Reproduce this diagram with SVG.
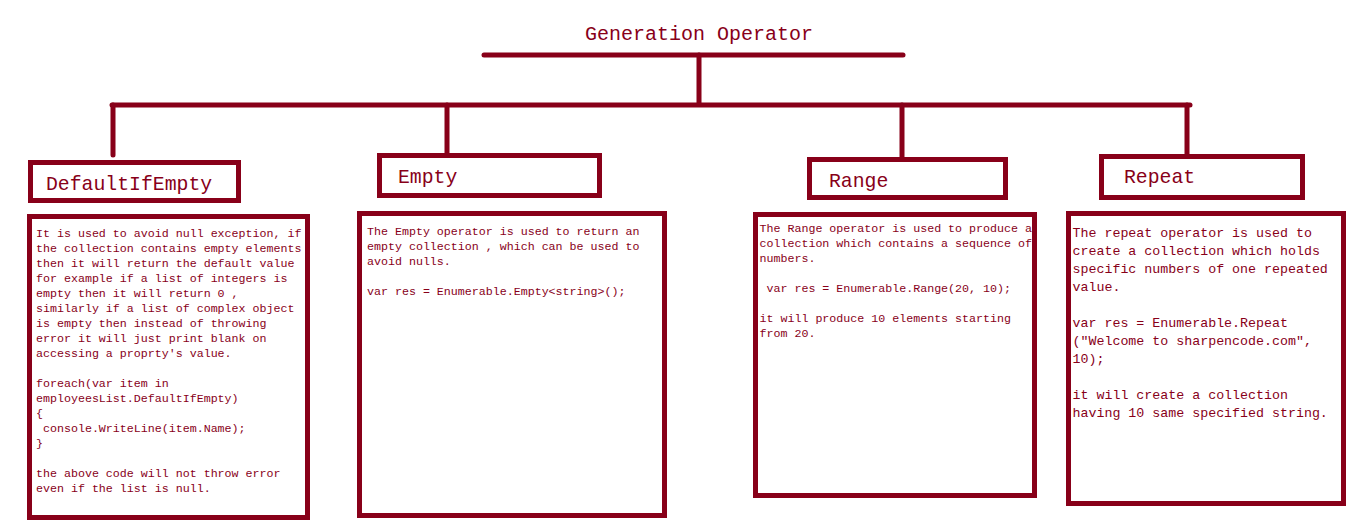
<svg xmlns="http://www.w3.org/2000/svg" width="1357" height="521" viewBox="0 0 1357 521">
<style>
.box{fill:#fff;stroke:#880019;stroke-width:5}
.ln{fill:none;stroke:#880019;stroke-width:5;stroke-linecap:round}
text{font-family:"Liberation Mono","DejaVu Sans Mono",monospace;fill:#880019;white-space:pre}
.t{font-size:20px}
.h{font-size:19.8px}
.b{font-size:11.65px}
.r{font-size:13.3px}
</style>
<rect width="1357" height="521" fill="#fff"/>
<g id="title"><text class="t" x="585" y="40">Generation Operator</text></g>
<g id="connectors">
<path class="ln" d="M484,55 H903"/>
<path class="ln" d="M699,55 V104"/>
<path class="ln" d="M112,105 H1190"/>
<path class="ln" d="M113,105 V155"/>
<path class="ln" d="M447,105 V153"/>
<path class="ln" d="M902,105 V157"/>
<path class="ln" d="M1187,105 V154"/>
</g>
<g id="defaultifempty">
<rect class="box" x="30.5" y="162.5" width="208" height="38"/>
<text class="h" x="46" y="190">DefaultIfEmpty</text>
</g>
<g id="defaultifempty-desc">
<rect class="box" x="29.5" y="216.5" width="278" height="301"/>
<text class="b" x="36" y="237">It is used to avoid null exception, if</text>
<text class="b" x="36" y="252">the collection contains empty elements</text>
<text class="b" x="36" y="267">then it will return the default value</text>
<text class="b" x="36" y="282">for example if a list of integers is</text>
<text class="b" x="36" y="297">empty then it will return 0 ,</text>
<text class="b" x="36" y="312">similarly if a list of complex object</text>
<text class="b" x="36" y="327">is empty then instead of throwing</text>
<text class="b" x="36" y="342">error it will just print blank on</text>
<text class="b" x="36" y="357">accessing a proprty's value.</text>
<text class="b" x="36" y="387">foreach(var item in</text>
<text class="b" x="36" y="402">employeesList.DefaultIfEmpty)</text>
<text class="b" x="36" y="417">{</text>
<text class="b" x="36" y="432"> console.WriteLine(item.Name);</text>
<text class="b" x="36" y="447">}</text>
<text class="b" x="36" y="477">the above code will not throw error</text>
<text class="b" x="36" y="492">even if the list is null.</text>
</g>
<g id="empty">
<rect class="box" x="379.5" y="155.5" width="220" height="40"/>
<text class="h" x="398" y="183">Empty</text>
</g>
<g id="empty-desc">
<rect class="box" x="359.5" y="213.5" width="305" height="302"/>
<text class="b" x="367" y="235">The Empty operator is used to return an</text>
<text class="b" x="367" y="250">empty collection , which can be used to</text>
<text class="b" x="367" y="265">avoid nulls.</text>
<text class="b" x="367" y="295">var res = Enumerable.Empty&lt;string&gt;();</text>
</g>
<g id="range">
<rect class="box" x="809.5" y="159.5" width="196" height="38"/>
<text class="h" x="829" y="187">Range</text>
</g>
<g id="range-desc">
<rect class="box" x="755.5" y="214.5" width="279" height="281"/>
<text class="b" x="759.5" y="232">The Range operator is used to produce a</text>
<text class="b" x="759.5" y="247">collection which contains a sequence of</text>
<text class="b" x="759.5" y="262">numbers.</text>
<text class="b" x="759.5" y="292"> var res = Enumerable.Range(20, 10);</text>
<text class="b" x="759.5" y="322">it will produce 10 elements starting</text>
<text class="b" x="759.5" y="337">from 20.</text>
</g>
<g id="repeat">
<rect class="box" x="1101.5" y="156.5" width="201" height="41"/>
<text class="h" x="1124" y="183">Repeat</text>
</g>
<g id="repeat-desc">
<rect class="box" x="1068.5" y="213.5" width="275" height="290"/>
<text class="r" x="1072.5" y="237">The repeat operator is used to</text>
<text class="r" x="1072.5" y="255">create a collection which holds</text>
<text class="r" x="1072.5" y="273">specific numbers of one repeated</text>
<text class="r" x="1072.5" y="291">value.</text>
<text class="r" x="1072.5" y="327">var res = Enumerable.Repeat</text>
<text class="r" x="1072.5" y="345">("Welcome to sharpencode.com",</text>
<text class="r" x="1072.5" y="363">10);</text>
<text class="r" x="1072.5" y="399">it will create a collection</text>
<text class="r" x="1072.5" y="417">having 10 same specified string.</text>
</g>
</svg>
